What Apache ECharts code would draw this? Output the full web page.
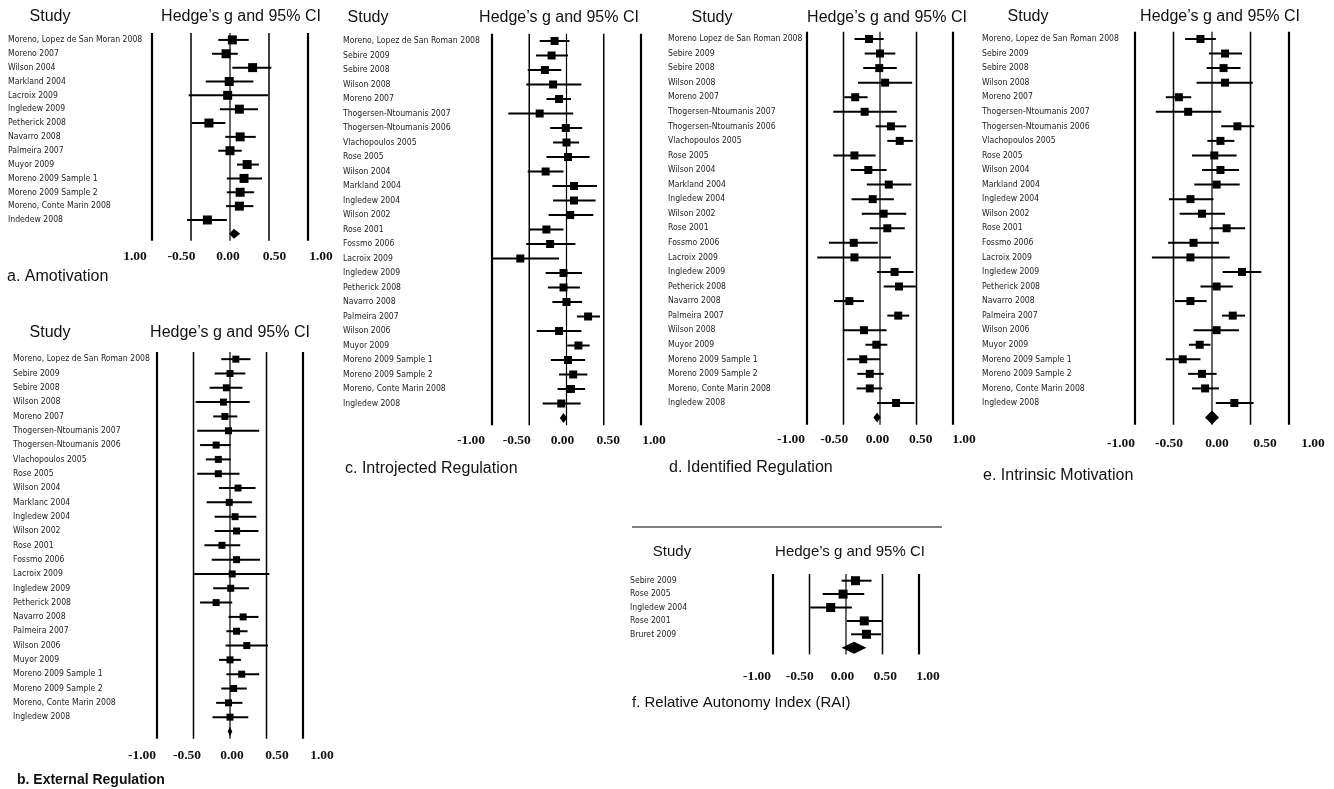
<!DOCTYPE html>
<html>
<head>
<meta charset="utf-8">
<title>Forest plots</title>
<script src="https://cdn.jsdelivr.net/npm/echarts@6.0.0/dist/echarts.min.js"></script>
<style>
  html, body { margin: 0; padding: 0; background: #fff; }
  #chart { width: 1334px; height: 789px; }
</style>
</head>
<body>
<div id="chart"></div>
<script>
// a. Amotivation
const studiesA = ['Moreno, Lopez de San Moran 2008', 'Moreno 2007', 'Wilson 2004', 'Markland 2004', 'Lacroix 2009',
  'Ingledew 2009', 'Petherick 2008', 'Navarro 2008', 'Palmeira 2007', 'Muyor 2009', 'Moreno 2009 Sample 1',
  'Moreno 2009 Sample 2', 'Moreno, Conte Marin 2008', 'Indedew 2008'];
const estA = [0.03, -0.05, 0.29, -0.01, -0.03, 0.12, -0.27, 0.13, 0.00, 0.22, 0.18, 0.13, 0.12, -0.29];
const lowA = [-0.15, -0.23, 0.03, -0.31, -0.53, -0.13, -0.49, -0.06, -0.15, 0.09, -0.04, -0.04, -0.05, -0.55];
const highA = [0.24, 0.10, 0.53, 0.30, 0.49, 0.36, -0.06, 0.33, 0.15, 0.37, 0.41, 0.31, 0.30, -0.04];
const pooledA = [0.05, -0.01, 0.13]; // estimate, low, high

// b. External Regulation
const studiesB = ['Moreno, Lopez de San Roman 2008', 'Sebire 2009', 'Sebire 2008', 'Wilson 2008', 'Moreno 2007',
  'Thogersen-Ntoumanis 2007', 'Thogersen-Ntoumanis 2006', 'Vlachopoulos 2005', 'Rose 2005', 'Wilson 2004',
  'Marklanc 2004', 'Ingledew 2004', 'Wilson 2002', 'Rose 2001', 'Fossmo 2006', 'Lacroix 2009', 'Ingledew 2009',
  'Petherick 2008', 'Navarro 2008', 'Palmeira 2007', 'Wilson 2006', 'Muyor 2009', 'Moreno 2009 Sample 1',
  'Moreno 2009 Sample 2', 'Moreno, Conte Marin 2008', 'Ingledew 2008'];
const estB = [0.08, 0.00, -0.05, -0.09, -0.07, -0.02, -0.19, -0.16, -0.16, 0.11, -0.01, 0.07, 0.09, -0.11, 0.09,
  0.03, 0.01, -0.19, 0.18, 0.09, 0.23, 0.00, 0.16, 0.05, -0.02, 0.00];
const lowB = [-0.12, -0.21, -0.28, -0.47, -0.23, -0.45, -0.41, -0.33, -0.45, -0.15, -0.32, -0.21, -0.21, -0.35, -0.25,
  -0.49, -0.23, -0.41, -0.02, -0.05, -0.06, -0.15, -0.05, -0.12, -0.19, -0.24];
const highB = [0.28, 0.21, 0.17, 0.27, 0.10, 0.40, 0.01, 0.01, 0.13, 0.35, 0.30, 0.36, 0.39, 0.14, 0.41,
  0.54, 0.26, 0.03, 0.39, 0.24, 0.52, 0.15, 0.40, 0.23, 0.17, 0.25];
const pooledB = [0.00, -0.03, 0.03];

// c. Introjected Regulation
const studiesC = ['Moreno, Lopez de San Roman 2008', 'Sebire 2009', 'Sebire 2008', 'Wilson 2008', 'Moreno 2007',
  'Thogersen-Ntoumanis 2007', 'Thogersen-Ntoumanis 2006', 'Vlachopoulos 2005', 'Rose 2005', 'Wilson 2004',
  'Markland 2004', 'Ingledew 2004', 'Wilson 2002', 'Rose 2001', 'Fossmo 2006', 'Lacroix 2009', 'Ingledew 2009',
  'Petherick 2008', 'Navarro 2008', 'Palmeira 2007', 'Wilson 2006', 'Muyor 2009', 'Moreno 2009 Sample 1',
  'Moreno 2009 Sample 2', 'Moreno, Conte Marin 2008', 'Ingledew 2008'];
const estC = [-0.16, -0.20, -0.29, -0.18, -0.10, -0.36, -0.01, 0.00, 0.02, -0.28, 0.10, 0.10, 0.05, -0.27, -0.22,
  -0.62, -0.04, -0.04, 0.00, 0.29, -0.10, 0.16, 0.02, 0.09, 0.06, -0.07];
const lowC = [-0.36, -0.41, -0.52, -0.54, -0.27, -0.78, -0.22, -0.18, -0.27, -0.52, -0.19, -0.18, -0.24, -0.49, -0.54,
  -0.99, -0.28, -0.25, -0.19, 0.14, -0.40, 0.01, -0.21, -0.10, -0.12, -0.32];
const highC = [0.04, 0.02, -0.07, 0.20, 0.06, 0.09, 0.21, 0.17, 0.31, -0.04, 0.41, 0.39, 0.36, -0.04, 0.12,
  -0.10, 0.21, 0.18, 0.21, 0.45, 0.20, 0.31, 0.25, 0.28, 0.25, 0.19];
const pooledC = [-0.04, -0.09, 0.01];

// d. Identified Regulation
const studiesD = ['Moreno Lopez de San Roman 2008', 'Sebire 2009', 'Sebire 2008', 'Wilson 2008', 'Moreno 2007',
  'Thogersen-Ntoumanis 2007', 'Thogersen-Ntoumanis 2006', 'Vlachopoulos 2005', 'Rose 2005', 'Wilson 2004',
  'Markland 2004', 'Ingledew 2004', 'Wilson 2002', 'Rose 2001', 'Fossmo 2006', 'Lacroix 2009', 'Ingledew 2009',
  'Petherick 2008', 'Navarro 2008', 'Palmeira 2007', 'Wilson 2008', 'Muyor 2009', 'Moreno 2009 Sample 1',
  'Moreno 2009 Sample 2', 'Moreno, Conte Marin 2008', 'Ingledew 2008'];
const estD = [-0.15, 0.00, -0.01, 0.07, -0.34, -0.21, 0.15, 0.27, -0.35, -0.16, 0.12, -0.10, 0.05, 0.10, -0.36,
  -0.35, 0.20, 0.26, -0.42, 0.25, -0.22, -0.05, -0.23, -0.14, -0.14, 0.22];
const lowD = [-0.35, -0.21, -0.23, -0.30, -0.49, -0.64, -0.06, 0.10, -0.64, -0.40, -0.18, -0.39, -0.25, -0.14, -0.70,
  -0.86, -0.04, 0.05, -0.63, 0.10, -0.51, -0.20, -0.45, -0.31, -0.32, -0.04];
const highD = [0.05, 0.21, 0.23, 0.44, -0.17, 0.23, 0.36, 0.45, -0.06, 0.09, 0.43, 0.19, 0.36, 0.34, -0.03,
  0.15, 0.46, 0.49, -0.22, 0.40, 0.09, 0.10, 0.00, 0.05, 0.03, 0.47];
const pooledD = [-0.04, -0.09, 0.01];

// e. Intrinsic Motivation
const studiesE = studiesC.slice();
const estE = [-0.15, 0.17, 0.15, 0.17, -0.43, -0.31, 0.33, 0.11, 0.03, 0.11, 0.06, -0.28, -0.13, 0.19, -0.24,
  -0.28, 0.39, 0.06, -0.28, 0.27, 0.06, -0.16, -0.38, -0.13, -0.09, 0.29];
const lowE = [-0.35, -0.04, -0.07, -0.20, -0.60, -0.73, 0.12, -0.06, -0.26, -0.13, -0.23, -0.56, -0.42, -0.03, -0.57,
  -0.78, 0.14, -0.15, -0.48, 0.13, -0.24, -0.30, -0.60, -0.31, -0.26, 0.05];
const highE = [0.05, 0.39, 0.37, 0.53, -0.27, 0.12, 0.55, 0.29, 0.32, 0.35, 0.36, 0.02, 0.17, 0.43, 0.09,
  0.23, 0.64, 0.27, -0.07, 0.43, 0.35, -0.02, -0.15, 0.06, 0.09, 0.54];
const pooledE = [0.00, -0.09, 0.09];

// f. Relative Autonomy Index (RAI)
const studiesF = ['Sebire 2009', 'Rose 2005', 'Ingledew 2004', 'Rose 2001', 'Bruret 2009'];
const estF = [0.13, -0.04, -0.21, 0.25, 0.28];
const lowF = [-0.06, -0.32, -0.49, 0.01, 0.07];
const highF = [0.35, 0.25, 0.08, 0.50, 0.48];
const pooledF = [0.11, -0.06, 0.28];

// tick labels (panel a prints the left one without its minus sign)
const ticksA = ['1.00', '-0.50', '0.00', '0.50', '1.00'];
const ticksStd = ['-1.00', '-0.50', '0.00', '0.50', '1.00'];
const refLines = [-1, -0.5, 0, 0.5, 1];

// layout of each panel, pixels
const panels = [
  { studies: studiesA, est: estA, low: lowA, high: highA, pooled: pooledA, ticks: ticksA,
    left: 152, width: 156, top: 33, rowH: 13.85, labLeft: 135, labWidth: 186, nameMargin: 144, tickMargin: 9, sq: 9, dh: 5 },
  { studies: studiesB, est: estB, low: lowB, high: highB, pooled: pooledB, ticks: ticksStd,
    left: 157, width: 146, top: 352, rowH: 14.32, labLeft: 142, labWidth: 180, nameMargin: 144, tickMargin: 10, sq: 7, dh: 5 },
  { studies: studiesC, est: estC, low: lowC, high: highC, pooled: pooledC, ticks: ticksStd,
    left: 492, width: 149, top: 33.75, rowH: 14.5, labLeft: 471, labWidth: 183, nameMargin: 149, tickMargin: 8, sq: 8, dh: 5 },
  { studies: studiesD, est: estD, low: lowD, high: highD, pooled: pooledD, ticks: ticksStd,
    left: 807, width: 146, top: 31.7, rowH: 14.56, labLeft: 791, labWidth: 173, nameMargin: 139, tickMargin: 7.5, sq: 8, dh: 5 },
  { studies: studiesE, est: estE, low: lowE, high: highE, pooled: pooledE, ticks: ticksStd,
    left: 1135, width: 154, top: 31.7, rowH: 14.56, labLeft: 1121, labWidth: 192, nameMargin: 153, tickMargin: 11.5, sq: 8, dh: 7 },
  { studies: studiesF, est: estF, low: lowF, high: highF, pooled: pooledF, ticks: ticksStd,
    left: 773, width: 146, top: 574, rowH: 13.4, labLeft: 757, labWidth: 171, nameMargin: 143, tickMargin: 15, sq: 9, dh: 6 }
];

const nameFont = "'Liberation Sans Narrow', 'DejaVu Sans Condensed', 'Liberation Sans', sans-serif";
const headFont = "'Liberation Sans', Arial, sans-serif";

let grid = [];
let xAxis = [];
let yAxis = [];
let series = [];

panels.forEach((p, i) => {
  const n = p.studies.length;
  const h = p.rowH * (n + 1);
  const g = i * 2;
  // plot area
  grid.push({ left: p.left, top: p.top, width: p.width, height: h });
  // strip that only carries the tick labels (they sit wider apart than the lines)
  grid.push({ left: p.labLeft, top: p.top, width: p.labWidth, height: h });

  xAxis.push({ gridIndex: g, type: 'value', min: -1, max: 1, show: false });
  xAxis.push({
    gridIndex: g + 1, type: 'value', min: -1, max: 1, interval: 0.5,
    axisLine: { show: false }, axisTick: { show: false }, splitLine: { show: false },
    axisLabel: {
      margin: p.tickMargin, fontFamily: "'Liberation Serif', serif", fontWeight: 'bold', fontSize: 13.5, color: '#111',
      formatter: v => p.ticks[Math.round((v + 1) / 0.5)]
    }
  });
  yAxis.push({
    gridIndex: g, type: 'category', inverse: true, data: p.studies.concat(['']),
    axisLine: { show: false }, axisTick: { show: false }, splitLine: { show: false },
    axisLabel: { interval: 0, align: 'left', margin: p.nameMargin, fontFamily: nameFont, fontSize: 8.6, color: '#222' }
  });
  yAxis.push({ gridIndex: g + 1, type: 'value', show: false });

  // vertical reference lines at -1, -0.5, 0, 0.5, 1
  series.push({
    type: 'custom', xAxisIndex: g, yAxisIndex: g, silent: true,
    data: refLines.map(v => [v, 0]),
    encode: { x: 0, y: 1 },
    renderItem: (params, api) => {
      const v = api.value(0);
      const cs = params.coordSys;
      const x = api.coord([v, 0])[0];
      const w = Math.abs(v) === 1 ? 2.2 : (v === 0 ? 1.2 : 1.5);
      return {
        type: 'line',
        shape: { x1: x, y1: cs.y, x2: x, y2: cs.y + cs.height },
        style: { stroke: '#000', lineWidth: w }
      };
    }
  });

  // study estimates with 95% CI
  series.push({
    type: 'custom', xAxisIndex: g, yAxisIndex: g, silent: true,
    data: p.studies.map((s, k) => [p.low[k], p.high[k], p.est[k], k]),
    encode: { x: [0, 1, 2], y: 3 },
    renderItem: (params, api) => {
      const row = api.value(3);
      const a = api.coord([api.value(0), row]);
      const b = api.coord([api.value(1), row]);
      const c = api.coord([api.value(2), row]);
      const s = p.sq;
      return {
        type: 'group',
        children: [
          { type: 'line', shape: { x1: a[0], y1: a[1], x2: b[0], y2: b[1] }, style: { stroke: '#000', lineWidth: 2 } },
          { type: 'rect', shape: { x: c[0] - s / 2, y: c[1] - s / 2, width: s, height: s }, style: { fill: '#000' } }
        ]
      };
    }
  });

  // pooled estimate diamond
  series.push({
    type: 'custom', xAxisIndex: g, yAxisIndex: g, silent: true,
    data: [[p.pooled[1], p.pooled[2], p.pooled[0], n]],
    encode: { x: [0, 1, 2], y: 3 },
    renderItem: (params, api) => {
      const row = api.value(3);
      const a = api.coord([api.value(0), row]);
      const b = api.coord([api.value(1), row]);
      const c = api.coord([api.value(2), row]);
      return {
        type: 'polygon',
        shape: { points: [[a[0], a[1]], [c[0], c[1] - p.dh], [b[0], b[1]], [c[0], c[1] + p.dh]] },
        style: { fill: '#000' }
      };
    }
  });
});

// headers and panel titles
function txt(text, x, y, size, align, weight) {
  return {
    type: 'text', x: x, y: y, silent: true,
    style: {
      text: text, fill: '#111', fontSize: size, fontFamily: headFont, fontWeight: weight || 'normal',
      align: align, verticalAlign: 'middle', textAlign: align, textVerticalAlign: 'middle'
    }
  };
}
const hedge = 'Hedge\u2019s g and 95% CI';
let graphic = [
  txt('Study', 50, 17, 16, 'center'), txt(hedge, 241, 17, 16, 'center'),
  txt('Study', 50, 333, 16, 'center'), txt(hedge, 230, 333, 16, 'center'),
  txt('Study', 368, 18, 16, 'center'), txt(hedge, 559, 18, 16, 'center'),
  txt('Study', 712, 18, 16, 'center'), txt(hedge, 887, 18, 16, 'center'),
  txt('Study', 1028, 17, 16, 'center'), txt(hedge, 1220, 17, 16, 'center'),
  txt('Study', 672, 552, 15, 'center'), txt(hedge, 850, 552, 15, 'center'),
  txt('a. Amotivation', 7, 277, 16, 'left'),
  txt('b. External Regulation', 17, 780, 14, 'left', 'bold'),
  txt('c. Introjected Regulation', 345, 469, 16, 'left'),
  txt('d. Identified Regulation', 669, 468, 16, 'left'),
  txt('e. Intrinsic Motivation', 983, 476, 16, 'left'),
  txt('f. Relative Autonomy Index (RAI)', 632, 703, 15, 'left'),
  { type: 'line', silent: true, shape: { x1: 632, y1: 527, x2: 942, y2: 527 }, style: { stroke: '#000', lineWidth: 1.2 } }
];

let chart = echarts.init(document.getElementById('chart'), null, { renderer: 'canvas' });
chart.setOption({
  backgroundColor: '#fff',
  animation: false,
  grid: grid,
  xAxis: xAxis,
  yAxis: yAxis,
  series: series,
  graphic: graphic
});
</script>
</body>
</html>
